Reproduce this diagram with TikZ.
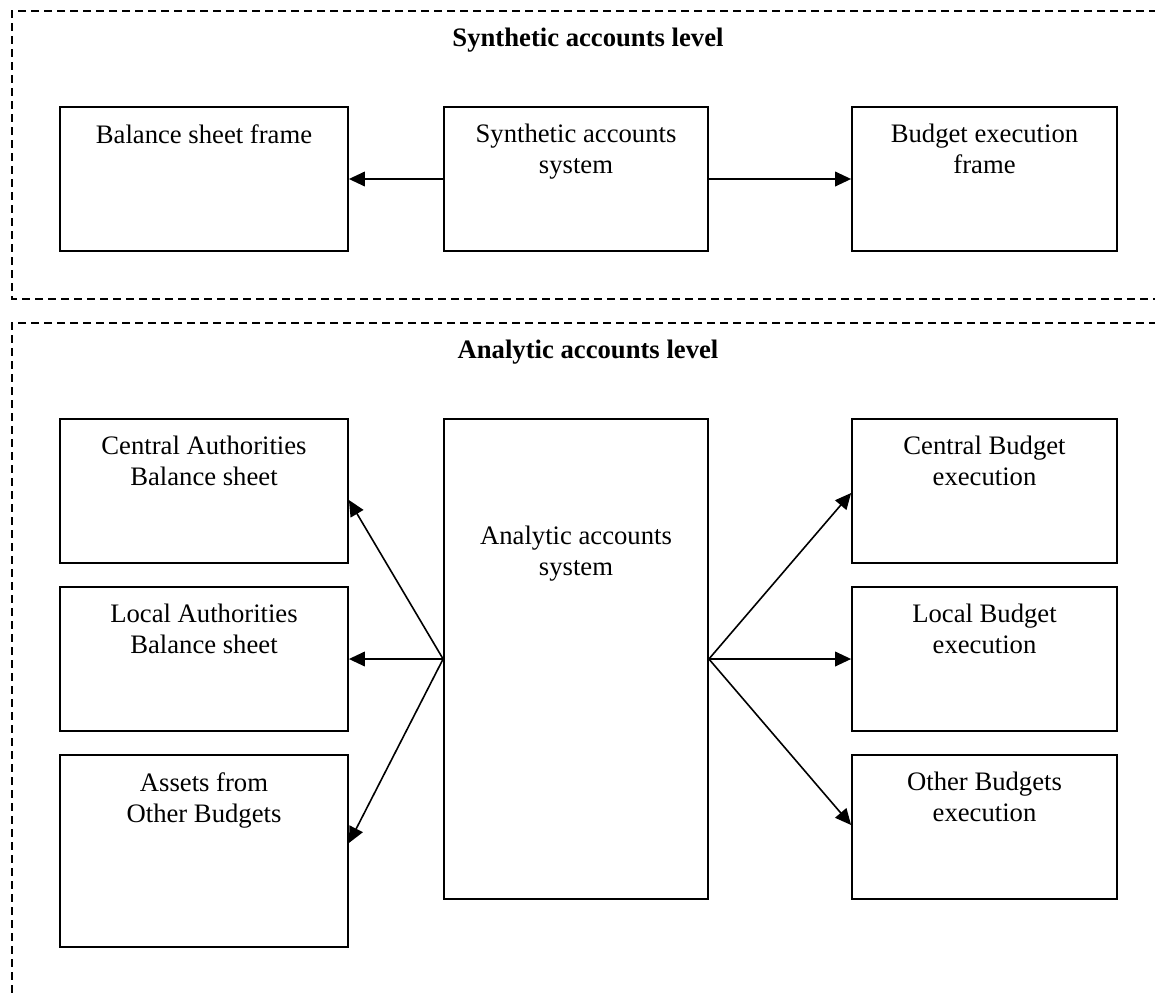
\documentclass[tikz,border=0pt]{standalone}
\usepackage{fontspec}
\setmainfont{Liberation Serif}
\usetikzlibrary{arrows.meta,calc}

\begin{document}
\begin{tikzpicture}[
  x=0.75pt, y=-0.75pt,
  box/.style={draw, rectangle, line width=1.35pt, inner sep=0pt},
  sidebox/.style={box, minimum width=216pt, minimum height=108pt},
  rbox/.style={box, minimum width=198.75pt, minimum height=108pt},
  midbox/.style={box, minimum width=198pt},
  txt/.style={inner sep=0pt, align=center, anchor=north,
    font=\fontsize{20pt}{23.25pt}\selectfont},
  ttl/.style={inner sep=0pt, anchor=base,
    font=\fontsize{20pt}{23.25pt}\selectfont\bfseries},
  frame/.style={line width=1.2pt, dash pattern=on 6pt off 3.75pt},
  link/.style={line width=1.2pt, -{Triangle[length=12pt,width=11pt]}}
]
\useasboundingbox (0,0) rectangle (1155,992);
\clip (0,0) rectangle (1155,992);
\fill[white] (0,0) rectangle (1155,992);

% level frames, open towards the right edge
\draw[frame] (1170,11) -- (12,11) -- (12,299) -- (1170,299);
\draw[frame] (1170,323) -- (12,323) -- (12,1010);

% level titles
\node[ttl] (t1) at (588,46) {Synthetic accounts level};
\node[ttl] (t2) at (588,358) {Analytic accounts level};

% synthetic level
\node[sidebox] (bsf) at (204,179) {};
\node[midbox, minimum height=108pt] (sas) at (576,179) {};
\node[rbox]    (bef) at (984.5,179) {};
\node[txt] (bsf-t) at ($(bsf.north)+(0,18)$) {Balance sheet frame};
\node[txt] (sas-t) at ($(sas.north)+(0,18)$) {Synthetic accounts\\system};
\node[txt] (bef-t) at ($(bef.north)+(0,18)$) {Budget execution\\frame};

\draw[link] (sas.west) -- (bsf.east);
\draw[link] (sas.east) -- (bef.west);

% analytic level
\node[sidebox] (cab) at (204,491) {};
\node[sidebox] (lab) at (204,659) {};
\node[box, minimum width=216pt, minimum height=144pt] (aob) at (204,851) {};
\node[midbox, minimum height=360pt] (aas) at (576,659) {};
\node[rbox] (cbe) at (984.5,491) {};
\node[rbox] (lbe) at (984.5,659) {};
\node[rbox] (obe) at (984.5,827) {};

\node[txt] (cab-t) at ($(cab.north)+(0,18)$) {Central Authorities\\Balance sheet};
\node[txt] (lab-t) at ($(lab.north)+(0,18)$) {Local Authorities\\Balance sheet};
\node[txt] (aob-t) at ($(aob.north)+(0,18)$) {Assets from\\Other Budgets};
\node[txt] (aas-t) at ($(aas.north)+(0,108)$) {Analytic accounts\\system};
\node[txt] (cbe-t) at ($(cbe.north)+(0,18)$) {Central Budget\\execution};
\node[txt] (lbe-t) at ($(lbe.north)+(0,18)$) {Local Budget\\execution};
\node[txt] (obe-t) at ($(obe.north)+(0,18)$) {Other Budgets\\execution};

\draw[link] (aas.west) -- ($(cab.east)+(0,9)$);
\draw[link] (aas.west) -- (lab.east);
\draw[link] (aas.west) -- ($(aob.east)+(0,-8)$);
\draw[link] (aas.east) -- ($(cbe.west)+(0,2)$);
\draw[link] (aas.east) -- (lbe.west);
\draw[link] (aas.east) -- ($(obe.west)+(0,-2)$);
\end{tikzpicture}
\end{document}
